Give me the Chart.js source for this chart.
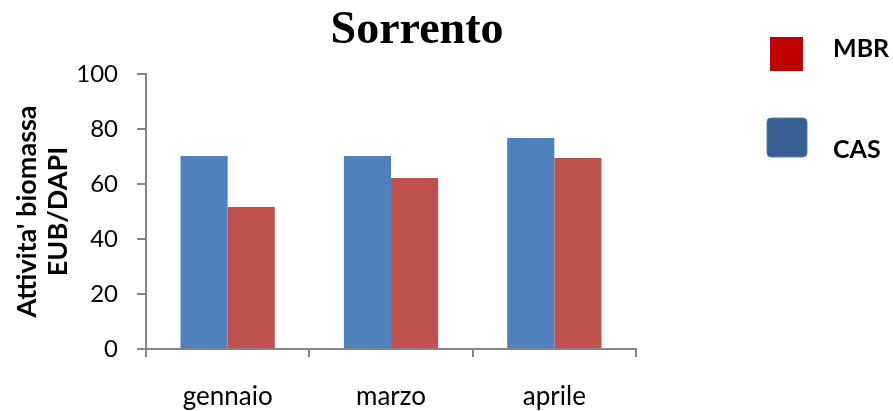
<!DOCTYPE html>
<html>
<head>
<meta charset="utf-8">
<script src="https://cdn.jsdelivr.net/npm/chart.js@4/dist/chart.umd.min.js"></script>
<style>
html,body{margin:0;padding:0;background:#fff;}
#wrap{width:893px;height:411px;position:relative;}
</style>
</head>
<body>
<div id="wrap"><canvas id="c" width="893" height="411"></canvas></div>
<script>
const categories = ['gennaio', 'marzo', 'aprile'];
const casValues = [70.2, 70.2, 76.7];
const mbrValues = [51.6, 62.2, 69.5];
const seriesNames = ['CAS', 'MBR'];
const chartTitle = 'Sorrento';
const yAxisTitle = ["Attivita' biomassa", 'EUB/DAPI'];
const legendItems = [
  {text: 'MBR', color: '#C00000'},
  {text: 'CAS', color: '#376092'}
];

const axisColor = '#868686';

const overlay = {
  id: 'overlay',
  afterDraw(chart) {
    const ctx = chart.ctx;
    ctx.save();
    ctx.fillStyle = '#000';
    ctx.font = 'bold 46px "Liberation Serif"';
    ctx.textAlign = 'center';
    ctx.textBaseline = 'alphabetic';
    ctx.fillText(chartTitle, 417, 43);
    // legend
    ctx.fillStyle = legendItems[0].color;
    ctx.fillRect(770, 37, 33, 34);
    ctx.fillStyle = legendItems[1].color;
    ctx.beginPath();
    ctx.roundRect(767, 118, 40, 39, 4);
    ctx.fill();
    ctx.strokeStyle = '#5a7fae';
    ctx.lineWidth = 1;
    ctx.stroke();
    ctx.fillStyle = '#000';
    ctx.font = 'bold 25px Lato';
    ctx.textAlign = 'left';
    ctx.fillText(legendItems[0].text, 833, 57);
    ctx.fillText(legendItems[1].text, 833, 158);
    ctx.restore();
  }
};

new Chart(document.getElementById('c'), {
  type: 'bar',
  data: {
    labels: categories,
    datasets: [
      {label: seriesNames[0], data: casValues, backgroundColor: '#4F81BD', categoryPercentage: 0.577, barPercentage: 1},
      {label: seriesNames[1], data: mbrValues, backgroundColor: '#C0504D', categoryPercentage: 0.577, barPercentage: 1}
    ]
  },
  options: {
    responsive: false,
    animation: false,
    devicePixelRatio: 1,
    layout: {padding: {top: 74, right: 257, left: 0, bottom: 0}},
    plugins: {legend: {display: false}, tooltip: {enabled: false}, title: {display: false}},
    scales: {
      x: {
        grid: {display: true, drawOnChartArea: false, drawTicks: true, tickLength: 8, color: axisColor, lineWidth: 2, offset: true},
        border: {display: true, color: axisColor, width: 2},
        ticks: {color: '#000', font: {family: 'Lato', size: 26}, padding: 24},
        afterFit(scale) { scale.height = 62; }
      },
      y: {
        min: 0, max: 100,
        grid: {display: true, drawOnChartArea: false, drawTicks: true, tickLength: 9, color: axisColor, lineWidth: 2},
        border: {display: true, color: axisColor, width: 2},
        ticks: {stepSize: 20, color: '#000', font: {family: 'Lato', size: 24}, padding: 19},
        title: {display: true, text: yAxisTitle, color: '#000', font: {family: 'Lato', size: 27, weight: 'bold', lineHeight: 1.15}, padding: {top: 12, bottom: 0}},
        afterFit(scale) { scale.width = 146; }
      }
    }
  },
  plugins: [overlay]
});
</script>
</body>
</html>
